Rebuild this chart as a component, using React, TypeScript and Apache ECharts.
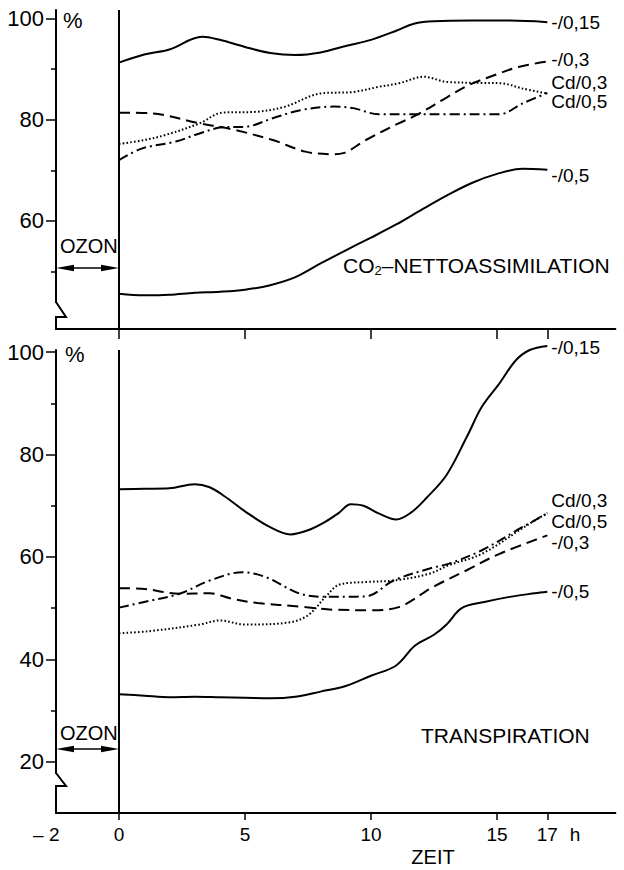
import React, { useEffect, useRef } from "react";
import * as echarts from "echarts";

const FONT = "'Liberation Sans', Arial, sans-serif";

const X_MIN = -2.5;
const X_MAX = 19.7;
const xTickValues = [0, 5, 10, 15, 17];
const xLabelValues = [-2.49, 0, 5, 10, 15, 17, 18.1];

const co2MajorTicks = [60, 80, 100];
const co2MinorTicks = [50, 70, 90];
const trMajorTicks = [20, 40, 60, 80, 100];
const trMinorTicks = [30, 50, 70, 90];

// CO2-Nettoassimilation (%)
const co2T_015 = [0, 1, 2, 3.3, 4, 5, 6, 7, 8, 9, 10, 11, 11.7, 12.5, 14, 15.5, 17];
const co2V_015 = [91.3, 92.9, 93.9, 96.4, 95.8, 94.4, 93.2, 92.8, 93.3, 94.6, 95.8, 97.6, 99.0, 99.5, 99.6, 99.6, 99.3];
const co2T_cd03 = [0, 1, 1.85, 3.2, 4.1, 5.5, 6.6, 8.0, 9.3, 10.3, 11.1, 12.1, 13, 14.3, 15.2, 16, 17];
const co2V_cd03 = [75.2, 76.0, 77.0, 79.3, 81.4, 81.6, 82.6, 85.2, 85.5, 86.5, 87.2, 88.5, 87.5, 87.3, 87.2, 86.2, 85.2];
const co2T_cd05 = [0, 0.9, 2.25, 3.2, 4.1, 5.0, 6.1, 7.2, 8.5, 9.3, 10.3, 11.8, 13, 15.1, 16, 17];
const co2V_cd05 = [72.0, 74.3, 75.7, 77.3, 78.5, 78.6, 80.3, 81.9, 82.6, 82.3, 81.1, 81.1, 81.1, 81.1, 83.2, 85.3];
const co2T_03 = [0, 1.2, 3.2, 4.5, 6.1, 7.4, 8.5, 8.9, 9.8, 11.1, 11.8, 13.0, 13.9, 15.0, 15.9, 17];
const co2V_03 = [81.4, 81.3, 79.3, 78.1, 76.0, 73.7, 73.2, 73.4, 76.0, 79.3, 80.9, 84.4, 86.9, 89.0, 90.5, 91.5];
const co2T_05 = [0, 1, 2, 3, 4, 5, 6, 7, 8, 9, 10, 11, 12, 13, 14, 15, 16, 17];
const co2V_05 = [45.6, 45.3, 45.4, 45.8, 46.0, 46.4, 47.3, 48.9, 51.6, 54.2, 56.7, 59.3, 62.2, 65.0, 67.5, 69.3, 70.3, 70.1];

// Transpiration (%)
const trT_015 = [0, 1, 2, 3, 3.6, 4.2, 5, 6, 6.8, 7.5, 8.2, 8.7, 9.2, 9.7, 10.3, 11, 11.6, 12.2, 13, 13.8, 14.4, 15.1, 15.75, 16.3, 17];
const trV_015 = [73.2, 73.3, 73.4, 74.2, 73.6, 71.8, 68.9, 65.8, 64.4, 65.2, 66.9, 68.5, 70.3, 70.0, 68.5, 67.3, 68.7, 71.5, 76.0, 83.4, 89.3, 93.9, 98.4, 100.4, 101.2];
const trT_cd03 = [0, 1.2, 3.2, 4.0, 5.0, 6.75, 7.5, 8.2, 8.75, 9.8, 10.9, 12.3, 13.1, 14.4, 16.2, 17];
const trV_cd03 = [45.1, 45.5, 46.8, 47.6, 46.8, 47.2, 48.6, 52.2, 54.6, 55.1, 55.4, 56.7, 58.4, 60.6, 66.2, 68.6];
const trT_cd05 = [0, 1, 2.4, 3.6, 4.9, 5.8, 7.2, 8.2, 9.8, 10.9, 12.3, 13.1, 14.4, 16, 17];
const trV_cd05 = [50.1, 51.2, 52.8, 55.4, 57.0, 56.1, 52.8, 52.2, 52.3, 55.4, 57.7, 58.7, 61.3, 65.8, 68.5];
const trT_03 = [0, 0.9, 2.4, 3.6, 4.5, 5.5, 7.2, 8.5, 10, 11.1, 12.45, 13.8, 15.1, 17];
const trV_03 = [53.9, 53.8, 52.8, 52.9, 51.8, 51.0, 50.3, 49.7, 49.6, 50.2, 54.1, 57.4, 60.6, 64.2];
const trT_05 = [0, 1, 2, 3, 4, 5, 6, 7, 8, 9, 10, 11, 11.75, 12.5, 13, 13.6, 14.5, 15.5, 16.5, 17];
const trV_05 = [33.2, 32.9, 32.6, 32.7, 32.6, 32.5, 32.4, 32.7, 33.7, 34.8, 36.8, 38.8, 42.7, 44.8, 46.8, 50.0, 51.2, 52.2, 52.9, 53.2];

const DASHED = [11, 6];
const DOTTED = [1.6, 2.2];
const DASHDOT = [10, 4, 2, 4];

function zip(t: number[], v: number[]) {
  return t.map((x, i) => [x, v[i]]);
}

function mkSeries(name: string, t: number[], v: number[], panel: number, type: any, dy: number, frame = false): any {
  const s: any = {
    type: "line",
    name,
    xAxisIndex: panel,
    yAxisIndex: panel * 2,
    data: zip(t, v),
    showSymbol: false,
    smooth: 0.35,
    clip: false,
    silent: true,
    lineStyle: { color: "#000", width: 2, type },
    endLabel: {
      show: true,
      formatter: name,
      color: "#000",
      fontSize: 19,
      lineHeight: 18,
      fontFamily: FONT,
      distance: 4,
      offset: [0, dy],
    },
  };
  if (frame) {
    // line at t = 0 (start of ozone exposure end) and the left frame line at the axis start
    s.markLine = {
      silent: true,
      symbol: ["none", "none"],
      label: { show: false },
      lineStyle: { color: "#000", width: 2, type: "solid" },
      data: [{ xAxis: 0 }, { xAxis: X_MIN }],
    };
  }
  return s;
}

function xAxisFor(panel: number): any {
  return {
    gridIndex: panel,
    type: "value",
    min: X_MIN,
    max: X_MAX,
    splitLine: { show: false },
    axisLine: { show: true, onZero: false, lineStyle: { color: "#000", width: 2 } },
    axisTick: { customValues: xTickValues, length: panel === 0 ? 10 : 7, lineStyle: { color: "#000", width: 1.5 } },
    axisLabel:
      panel === 0
        ? { show: false }
        : {
            customValues: xLabelValues,
            color: "#000",
            fontSize: 19,
            fontFamily: FONT,
            margin: 12,
            formatter: (v: number) => {
              if (Math.abs(v - X_MIN) < 0.05) return "{m|– 2}";
              if (Math.abs(v - 18.1) < 0.01) return "h";
              return String(v);
            },
            rich: { m: { fontSize: 19, fontFamily: FONT, color: "#000", padding: [0, 20, 0, 0] } },
          },
  };
}

function yAxesFor(panel: number, min: number, max: number, major: number[], minor: number[]): any[] {
  return [
    {
      gridIndex: panel,
      type: "value",
      position: "left",
      min,
      max,
      splitLine: { show: false },
      axisLine: { show: true, onZero: false, lineStyle: { color: "#000", width: 2 } },
      axisTick: { show: true, customValues: major, length: 10, lineStyle: { color: "#000", width: 1.5 } },
      axisLabel: { customValues: major, color: "#000", fontSize: 22, fontFamily: FONT, margin: 12 },
    },
    {
      gridIndex: panel,
      type: "value",
      position: "left",
      min,
      max,
      splitLine: { show: false },
      axisLine: { show: false, onZero: false },
      axisTick: { show: true, customValues: minor, length: 5, lineStyle: { color: "#000", width: 1.5 } },
      axisLabel: { show: false },
    },
  ];
}

function arrow(y: number): any {
  const x0 = 56;
  const x1 = 119;
  const s = { fill: "#000" };
  return {
    type: "group",
    children: [
      { type: "line", shape: { x1: x0 + 10, y1: y, x2: x1 - 10, y2: y }, style: { stroke: "#000", lineWidth: 1.5 } },
      { type: "polygon", shape: { points: [[x0, y], [x0 + 18, y - 3.2], [x0 + 18, y + 3.2]] }, style: s },
      { type: "polygon", shape: { points: [[x1, y], [x1 - 18, y - 3.2], [x1 - 18, y + 3.2]] }, style: s },
    ],
  };
}

function breakMark(yTop: number, yBot: number): any {
  return {
    type: "group",
    z: 10,
    children: [
      { type: "rect", z: 10, shape: { x: 53, y: yTop + 1, width: 6, height: yBot - yTop - 2 }, style: { fill: "#fff" } },
      { type: "polyline", z: 11, shape: { points: [[56, yTop], [66, yBot], [56, yBot]] }, style: { stroke: "#000", lineWidth: 2, fill: null } },
    ],
  };
}

function txt(text: string, x: number, y: number, size: number, align = "left", extra: any = {}): any {
  return {
    type: "text",
    x,
    y,
    style: { text, fill: "#000", fontSize: size, fontFamily: FONT, align, verticalAlign: "middle", ...extra },
  };
}

export default function App() {
  const ref = useRef<HTMLDivElement>(null);
  useEffect(() => {
    document.body.style.margin = "0";
    const chart = echarts.init(ref.current!, null, { renderer: "svg" });
    const option: any = {
      animation: false,
      grid: [
        { left: 56, width: 559.4, top: 10, height: 319 },
        { left: 56, width: 559.4, top: 350, height: 463 },
      ],
      xAxis: [xAxisFor(0), xAxisFor(1)],
      yAxis: [
        ...yAxesFor(0, 38.64, 101.7, co2MajorTicks, co2MinorTicks),
        ...yAxesFor(1, 10, 100.4, trMajorTicks, trMinorTicks),
      ],
      series: [
        mkSeries("-/0,15", co2T_015, co2V_015, 0, "solid", 0, true),
        mkSeries("-/0,3", co2T_03, co2V_03, 0, DASHED, -2),
        mkSeries("Cd/0,3", co2T_cd03, co2V_cd03, 0, DOTTED, -11),
        mkSeries("Cd/0,5", co2T_cd05, co2V_cd05, 0, DASHDOT, 9),
        mkSeries("-/0,5", co2T_05, co2V_05, 0, "solid", 6),
        mkSeries("-/0,15", trT_015, trV_015, 1, "solid", 2, true),
        mkSeries("Cd/0,3", trT_cd03, trV_cd03, 1, DOTTED, -12),
        mkSeries("Cd/0,5", trT_cd05, trV_cd05, 1, DASHDOT, 8),
        mkSeries("-/0,3", trT_03, trV_03, 1, DASHED, 7),
        mkSeries("-/0,5", trT_05, trV_05, 1, "solid", 0),
      ],
      graphic: {
        elements: [
          breakMark(302, 317),
          breakMark(773, 786),
          arrow(268),
          arrow(749),
          txt("OZON", 60, 246, 20),
          txt("OZON", 60, 733, 20),
          txt("%", 63, 20, 22),
          txt("%", 65, 354, 22),
          txt("{a|CO}{s|2}{a|–NETTOASSIMILATION}", 343, 265, 21, "left", {
            rich: {
              a: { fontSize: 21, fontFamily: FONT, fill: "#000", lineHeight: 24, verticalAlign: "middle" },
              s: { fontSize: 13, fontFamily: FONT, fill: "#000", lineHeight: 24, verticalAlign: "bottom" },
            },
          }),
          txt("TRANSPIRATION", 421, 735, 21),
          txt("ZEIT", 433, 857, 20, "center"),
        ],
      },
    };
    chart.setOption(option);
    return () => chart.dispose();
  }, []);
  return <div ref={ref} style={{ width: 624, height: 870 }} />;
}
